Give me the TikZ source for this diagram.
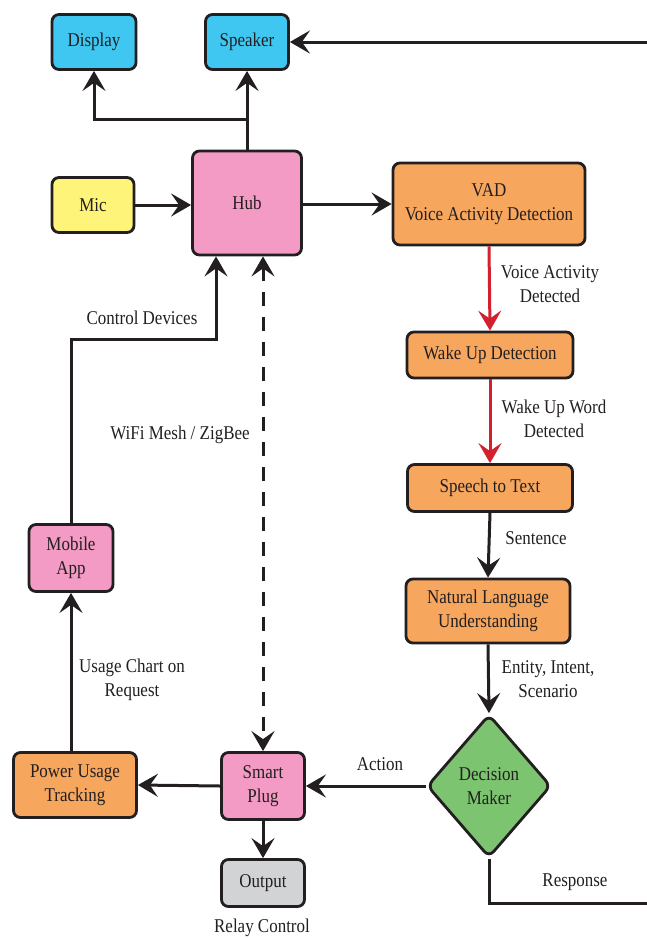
\documentclass[tikz,border=0pt]{standalone}
\usepackage{fontspec}
\setmainfont[FakeStretch=0.87]{Liberation Serif}
\usetikzlibrary{arrows.meta,positioning,shapes.geometric,calc}
\definecolor{skyblue}{HTML}{3FC7F2}
\definecolor{hubpink}{HTML}{F39BC4}
\definecolor{micyellow}{HTML}{FFF47A}
\definecolor{procorange}{HTML}{F7A65E}
\definecolor{decgreen}{HTML}{7CC470}
\definecolor{outgray}{HTML}{D1D3D4}
\definecolor{wakered}{HTML}{D2202F}
\definecolor{inkgray}{HTML}{231F20}

\begin{document}
\begin{tikzpicture}[x=0.5pt,y=-0.5pt,
  font=\fontsize{9.75}{12}\selectfont, text=inkgray,
  box/.style={draw=inkgray, line width=1.4pt, rounded corners=3.5pt, align=center, inner sep=1pt},
  flow/.style={draw=inkgray, line width=1.5pt, -{Stealth[length=10pt,width=11.5pt,inset=4pt]}},
  both/.style={{Stealth[length=10pt,width=11.5pt,inset=4pt]}-{Stealth[length=10pt,width=11.5pt,inset=4pt]}},
  lbl/.style={align=center, inner sep=0pt}]
\useasboundingbox (0,0) rectangle (647,938);
% top row
\node (disp) at (94,42) [box, fill=skyblue, minimum width=42pt, minimum height=27.5pt] {Display};
\node (spk) at (247,42) [box, fill=skyblue, minimum width=41.5pt, minimum height=27.5pt] {Speaker};
\node (mic) at (93,205) [box, fill=micyellow, minimum width=41pt, minimum height=27.5pt] {Mic};
\node (hub) at (247,203) [box, fill=hubpink, minimum width=54.5pt, minimum height=52pt] {Hub};
\node (vad) at (489,204) [box, fill=procorange, minimum width=96pt, minimum height=41pt] {VAD\\Voice Activity Detection};
% voice pipeline
\node (wake) at (490,355) [box, fill=procorange, minimum width=83pt, minimum height=23pt] {Wake Up Detection};
\node (stt) at (490,488) [box, fill=procorange, minimum width=82.5pt, minimum height=23.5pt] {Speech to Text};
\node (nlu) at (488,611) [box, fill=procorange, minimum width=82pt, minimum height=32pt] {Natural Language\\Understanding};
\node (dec) at (489,786) [diamond, aspect=0.85, draw=inkgray, line width=1.4pt, rounded corners=3.5pt, fill=decgreen, align=center, inner sep=0pt, minimum width=62pt, minimum height=71.5pt] {Decision\\Maker};
% devices
\node (plug) at (263,786) [box, fill=hubpink, minimum width=41.5pt, minimum height=33.5pt] {Smart\\Plug};
\node (power) at (75,785) [box, fill=procorange, minimum width=61.5pt, minimum height=32.5pt] {Power Usage\\Tracking};
\node (out) at (263,883) [box, fill=outgray, minimum width=41.5pt, minimum height=23.5pt] {Output};
\node (app) at (71,558) [box, fill=hubpink, minimum width=42pt, minimum height=33.5pt] {Mobile\\App};
% bends
\coordinate (fork) at (247,119);
\coordinate (ctl) at (216,339);
\coordinate (resp) at (660,903);
% connectors
\draw[flow] (hub.north) -- (spk.south);
\draw[flow] (fork) -| (disp.south);
\draw[flow] (mic.east) -- (hub.west |- mic.east);
\draw[flow] (hub.east |- vad.west) -- (vad.west);
\draw[flow, draw=wakered, fill=wakered] (vad.south) -- (wake.north);
\draw[flow, draw=wakered, fill=wakered] (wake.south) -- (stt.north);
\draw[flow] (stt.south) -- (nlu.north);
\draw[flow] (nlu.south) -- (dec.north);
\draw[flow] (dec.west) -- (plug.east);
\draw[flow] (plug.west) -- (power.east);
\draw[flow] (plug.south) -- (out.north);
\draw[flow] (app.south |- power.north) -- (app.south);
\draw[flow] (app.north) |- (ctl) -- (ctl |- hub.south);
\draw[flow, both, dash pattern=on 7pt off 5.5pt] (plug.north |- hub.south) -- (plug.north);
\draw[flow] (dec.south) |- (resp) |- (spk.east);
% labels
\node (vadlbl) at (550,284) [lbl] {Voice Activity\\Detected};
\node (wakelbl) at (554,419) [lbl] {Wake Up Word\\Detected};
\node (sentlbl) at (536,538) [lbl] {Sentence};
\node (entlbl) at (548,679) [lbl] {Entity, Intent,\\Scenario};
\node (actlbl) at (380,764) [lbl] {Action};
\node (resplbl) at (575,882) [lbl] {Response};
\node (relaylbl) at (262,928) [lbl] {Relay Control};
\node (usagelbl) at (132,680) [lbl] {Usage Chart on\\Request};
\node (ctllbl) at (142,318) [lbl] {Control Devices};
\node (wifilbl) at (180,435) [lbl] {WiFi Mesh / ZigBee};
\end{tikzpicture}
\end{document}
